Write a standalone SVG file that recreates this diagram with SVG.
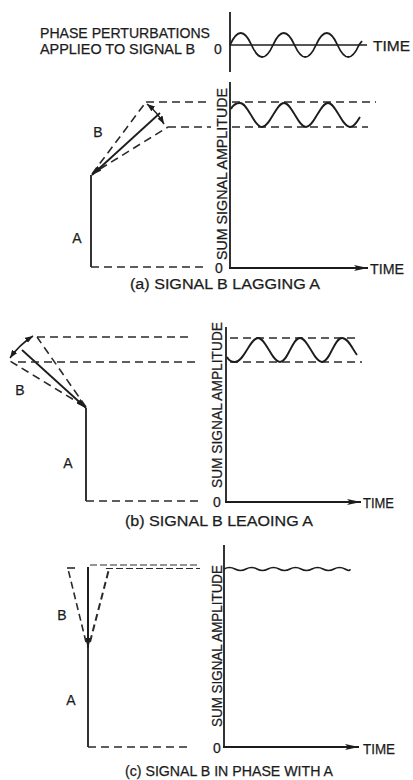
<svg xmlns="http://www.w3.org/2000/svg" width="413" height="780" viewBox="0 0 413 780">
<defs>
<marker id="ah" viewBox="0 0 10 6" refX="10" refY="3" markerWidth="10" markerHeight="6" markerUnits="userSpaceOnUse" orient="auto"><path d="M0,0 L10,3 L0,6 z" fill="#1c1c1c"/></marker>
<marker id="axh" viewBox="0 0 14 6" refX="14" refY="3" markerWidth="14" markerHeight="6" markerUnits="userSpaceOnUse" orient="auto"><path d="M0,0 L14,3 L0,6 L3,3 z" fill="#1c1c1c"/></marker>
<marker id="sh" viewBox="0 0 8 6" refX="8" refY="3" markerWidth="8" markerHeight="6" markerUnits="userSpaceOnUse" orient="auto"><path d="M0,0 L8,3 L0,6 z" fill="#1c1c1c"/></marker>
<marker id="shs" viewBox="0 0 8 6" refX="0" refY="3" markerWidth="8" markerHeight="6" markerUnits="userSpaceOnUse" orient="auto"><path d="M8,0 L0,3 L8,6 z" fill="#1c1c1c"/></marker>
</defs>
<style>
.s{stroke:#1c1c1c;stroke-width:1.8;fill:none;stroke-linecap:butt}
.d{stroke:#2a2a2a;stroke-width:1.6;fill:none;stroke-dasharray:8 5}
.w{stroke:#1c1c1c;stroke-width:1.8;fill:none}
.t{font-family:"Liberation Sans",Arial,sans-serif;font-size:14px;fill:#1c1c1c;stroke:#1c1c1c;stroke-width:0.25}
.v{font-size:15px}
.c{text-anchor:middle}
</style>
<rect width="413" height="780" fill="#ffffff"/>

<g id="top-panel">
<text class="t" x="40" y="38" textLength="170" lengthAdjust="spacingAndGlyphs">PHASE PERTURBATIONS</text>
<text class="t" x="40" y="54" textLength="155" lengthAdjust="spacingAndGlyphs">APPLIEO TO SIGNAL B</text>
<text class="t" x="214" y="54">0</text>
<text class="t" x="373" y="51" textLength="37" lengthAdjust="spacingAndGlyphs">TIME</text>
<line class="s" x1="230" y1="12" x2="230" y2="72"/>
<line class="s" x1="230" y1="45" x2="367" y2="45" style="stroke-width:1.4"/>
<path class="w" d="M230,45 Q240.75,21 251.5,45 T273,45 T294.5,45 T316,45 T337.5,45 T359,45 Q360.5,43 362,41"/>
</g>

<g id="panel-a">
<g id="a-vectors">
<line class="s" x1="91" y1="175" x2="91" y2="267"/>
<line class="d" x1="91" y1="267" x2="206" y2="267"/>
<line class="d" x1="92" y1="174" x2="146" y2="102"/>
<line class="d" x1="100" y1="169" x2="168" y2="127"/>
<line class="s" x1="160" y1="113" x2="92" y2="175" marker-end="url(#ah)"/>
<path class="s" d="M147,104 Q157,112 164,124" style="stroke-width:1.5" marker-start="url(#shs)" marker-end="url(#sh)"/>
</g>
<line class="d" x1="146" y1="102" x2="211" y2="102"/>
<line class="d" x1="232" y1="102" x2="376" y2="102"/>
<line class="d" x1="168" y1="127" x2="211" y2="127"/>
<line class="d" x1="232" y1="127" x2="368" y2="127"/>
<text class="t c" x="98" y="137">B</text>
<text class="t c" x="77" y="243">A</text>
<line class="s" x1="230" y1="82" x2="230" y2="268"/>
<line class="s" x1="229" y1="268" x2="368" y2="268" marker-end="url(#axh)"/>
<path class="w" d="M231,109 Q234,103 240,103 C248,103 254,127 262,127 S276,103 284,103 S298,127 306,127 S320,103 328,103 S342,127 350,127 C354,127 357,122 360,117"/>
<text class="t v c" transform="translate(227,174) rotate(-90)" textLength="172" lengthAdjust="spacingAndGlyphs">SUM SIGNAL AMPLITUDE</text>
<text class="t" x="215" y="273">0</text>
<text class="t" x="370" y="274" textLength="34" lengthAdjust="spacingAndGlyphs">TIME</text>
<text class="t c" x="225" y="289" textLength="190" lengthAdjust="spacingAndGlyphs">(a) SIGNAL B LAGGING A</text>
</g>

<g id="panel-b">
<g id="b-vectors">
<line class="s" x1="86" y1="408" x2="86" y2="501"/>
<line class="d" x1="86" y1="501" x2="200" y2="501"/>
<line class="d" x1="86" y1="407" x2="37" y2="337"/>
<line class="d" x1="84" y1="406" x2="10" y2="361"/>
<line class="s" x1="22" y1="350" x2="86" y2="408" marker-end="url(#ah)"/>
<path class="s" d="M33,336 Q19,345 10,358" style="stroke-width:1.5" marker-start="url(#shs)" marker-end="url(#sh)"/>
</g>
<line class="d" x1="37" y1="337" x2="192" y2="337"/>
<line class="d" x1="230" y1="338" x2="360" y2="338"/>
<line class="d" x1="18" y1="362" x2="195" y2="362"/>
<line class="d" x1="230" y1="362" x2="362" y2="362"/>
<text class="t c" x="20" y="395">B</text>
<text class="t c" x="68" y="468">A</text>
<line class="s" x1="226" y1="327" x2="226" y2="502"/>
<line class="s" x1="225" y1="502" x2="361" y2="502" marker-end="url(#axh)"/>
<path class="w" d="M227,357 C229,361 231,362 235,362 C244,362 250,338 258,338 C266,338 272,362 280,362 C288,362 292,338 300,338 C308,338 314,362 322,362 C330,362 334,338 342,338 C348,338 352,348 357,355"/>
<text class="t v c" transform="translate(222,405) rotate(-90)" textLength="166" lengthAdjust="spacingAndGlyphs">SUM SIGNAL AMPLITUDE</text>
<text class="t" x="213" y="507">0</text>
<text class="t" x="363" y="508" textLength="31" lengthAdjust="spacingAndGlyphs">TIME</text>
<text class="t c" x="219" y="526" textLength="188" lengthAdjust="spacingAndGlyphs">(b) SIGNAL B LEAOING A</text>
</g>

<g id="panel-c">
<g id="c-vectors">
<line class="s" x1="88" y1="567" x2="88" y2="747"/>
<line class="s" x1="88" y1="567" x2="88" y2="648" marker-end="url(#ah)"/>
<line class="d" x1="88" y1="747" x2="190" y2="747"/>
<line class="d" x1="86" y1="642" x2="68" y2="569" style="stroke-dasharray:7 4"/>
<line class="d" x1="67" y1="568" x2="76" y2="568"/>
<line class="d" x1="90" y1="642" x2="109" y2="569" style="stroke-width:2;stroke-dasharray:7 4"/>
</g>
<line class="d" x1="90" y1="565" x2="200" y2="565" style="stroke-width:1.2;stroke-dasharray:7 3"/>
<line class="d" x1="106" y1="568.5" x2="200" y2="568.5" style="stroke-width:1.2;stroke-dasharray:7 3"/>
<text class="t c" x="62" y="620">B</text>
<text class="t c" x="71" y="705">A</text>
<line class="s" x1="224" y1="545" x2="224" y2="747"/>
<line class="s" x1="223" y1="747" x2="359" y2="747" marker-end="url(#axh)"/>
<path class="w" style="stroke-width:1.5" d="M224,569 q5.5,-3 11,0 t11,0 t11,0 t11,0 t11,0 t11,0 t11,0 t11,0 t11,0 t11,0 t11,0 t5,0"/>
<text class="t v c" transform="translate(222,646) rotate(-90)" textLength="162" lengthAdjust="spacingAndGlyphs">SUM SIGNAL AMPLITUDE</text>
<text class="t" x="213" y="753">0</text>
<text class="t" x="363" y="754" textLength="32" lengthAdjust="spacingAndGlyphs">TIME</text>
<text class="t c" x="229" y="776" textLength="208" lengthAdjust="spacingAndGlyphs">(c) SIGNAL B IN PHASE WITH A</text>
</g>
</svg>
